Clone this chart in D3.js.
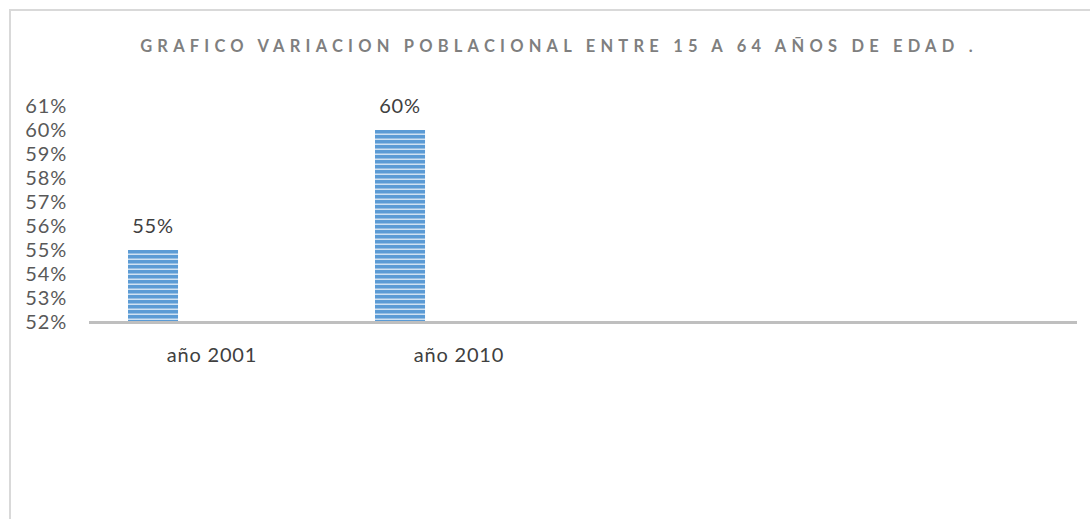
<!DOCTYPE html>
<html>
<head>
<meta charset="utf-8">
<script src="https://cdn.jsdelivr.net/npm/d3@7"></script>
<style>
  body { margin: 0; background: #fff; }
  svg text { font-family: Lato, "Open Sans", sans-serif; }
</style>
</head>
<body>
<div id="chart"></div>
<script>
// datos
const categories = ["año 2001", "año 2010", "", ""];
const series = ["Serie1", "Serie2"];
const serie1 = [0.55, 0.60, null, null];
const serie2 = [null, null, null, null];
const yTicks = [0.52, 0.53, 0.54, 0.55, 0.56, 0.57, 0.58, 0.59, 0.60, 0.61];
const title = "GRAFICO VARIACION POBLACIONAL ENTRE 15 A 64 AÑOS DE EDAD .";

const W = 1090, H = 519;
const plot = { left: 88.5, right: 1076.5, top: 106, bottom: 322 };

const svg = d3.select("#chart").append("svg")
    .attr("width", W)
    .attr("height", H);

// patron de rayas horizontales
const defs = svg.append("defs");
const pat = defs.append("pattern")
    .attr("id", "rayas")
    .attr("patternUnits", "userSpaceOnUse")
    .attr("width", 8)
    .attr("height", 5);
pat.append("rect").attr("width", 8).attr("height", 5).attr("fill", "#5b9bd5");
pat.append("rect").attr("y", 3.5).attr("width", 8).attr("height", 1.5).attr("fill", "#cfe1f2");

// marco del grafico
svg.append("path")
    .attr("d", `M10,${H} L10,10 L${W},10`)
    .attr("fill", "none")
    .attr("stroke", "#d9d9d9")
    .attr("stroke-width", 2);

svg.append("text")
    .attr("x", 559)
    .attr("y", 52)
    .attr("text-anchor", "middle")
    .attr("fill", "#7f7f7f")
    .style("font-size", "16.5px")
    .style("font-weight", "bold")
    .style("letter-spacing", "5.2px")
    .text(title);

const x = d3.scaleBand()
    .domain(d3.range(categories.length))
    .range([plot.left, plot.right]);

const xs = d3.scaleBand()
    .domain(series)
    .range([0, x.bandwidth()])
    .paddingInner(0.576)
    .paddingOuter(0.335);

const y = d3.scaleLinear()
    .domain([0.52, 0.61])
    .range([plot.bottom, plot.top]);

const fmt = d3.format(".0%");
const labelStyle = sel => sel
    .style("font-size", "20px")
    .style("letter-spacing", "0.8px")
    .style("font-family", "Lato, 'Open Sans', sans-serif");

// eje Y (solo etiquetas)
const yAxis = svg.append("g")
    .attr("transform", "translate(69,0)")
    .call(d3.axisLeft(y).tickValues(yTicks).tickFormat(fmt).tickSize(0).tickPadding(2));
yAxis.select(".domain").remove();
yAxis.selectAll("text")
    .attr("fill", "#595959")
    .call(labelStyle);

// barras
const rows = categories.map((c, i) => ({ i, vals: [serie1[i], serie2[i]] }));
const groups = svg.append("g").selectAll("g")
    .data(rows)
    .join("g")
    .attr("transform", d => `translate(${x(d.i)},0)`);

const bars = groups.selectAll("g")
    .data(d => d.vals.map((v, k) => ({ s: series[k], v })).filter(e => e.v != null))
    .join("g");

bars.append("rect")
    .attr("x", d => xs(d.s))
    .attr("width", xs.bandwidth())
    .attr("y", d => y(d.v))
    .attr("height", d => y(0.52) - y(d.v))
    .attr("fill", "url(#rayas)");

bars.append("text")
    .attr("x", d => xs(d.s) + xs.bandwidth() / 2)
    .attr("y", d => y(d.v) - 17)
    .attr("text-anchor", "middle")
    .attr("fill", "#404040")
    .call(labelStyle)
    .text(d => fmt(d.v));

// eje X
const xAxis = svg.append("g")
    .attr("transform", `translate(0,${plot.bottom})`)
    .call(d3.axisBottom(x).tickFormat(i => categories[i]).tickSize(0).tickPadding(26));
xAxis.select(".domain")
    .attr("stroke", "#bfbfbf")
    .attr("stroke-width", 3);
xAxis.selectAll("text")
    .attr("fill", "#404040")
    .call(labelStyle);
</script>
</body>
</html>
